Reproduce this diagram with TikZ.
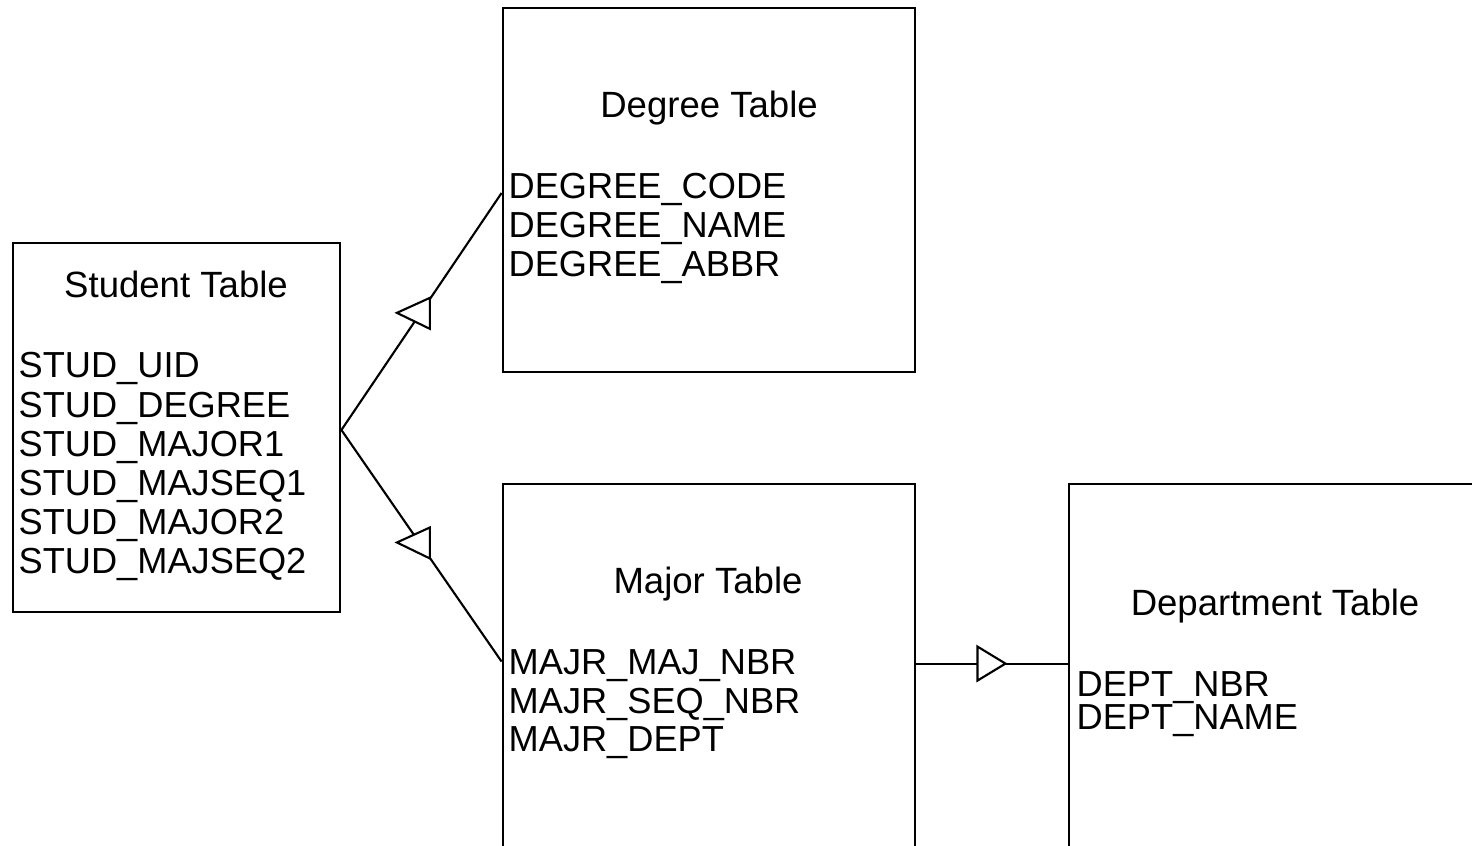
\documentclass[tikz,border=0pt]{standalone}
\usepackage{fontspec}
\setmainfont{Liberation Sans}

\tikzset{
  tablebox/.style={draw, line width=0.8pt, inner sep=0pt},
  tabletitle/.style={inner sep=0pt, anchor=base, font=\fontsize{10.4}{12}\selectfont},
  field/.style={inner sep=0pt, anchor=base west, font=\fontsize{10.3}{12}\selectfont},
  link/.style={line width=0.6pt},
}

\begin{document}
\begin{tikzpicture}
\useasboundingbox (0,0) rectangle (14.72,8.46);
\clip (0,0) rectangle (14.72,8.46);

% Tablas
\node[tablebox, minimum width=3.27cm, minimum height=3.69cm] (student) at (1.765,4.185) {};
\node[tablebox, minimum width=4.12cm, minimum height=3.64cm] (degree) at (7.09,6.56) {};
\node[tablebox, minimum width=4.12cm, minimum height=5cm] (major) at (7.09,1.12) {};
\node[tablebox, minimum width=5.31cm, minimum height=5cm] (dept) at (13.345,1.12) {};

% Titulos
\node[tabletitle] (studtitle) at (1.76,5.48) {Student Table};
\node[tabletitle] (degtitle) at (7.09,7.28) {Degree Table};
\node[tabletitle] (majtitle) at (7.08,2.52) {Major Table};
\node[tabletitle] (depttitle) at (12.75,2.30) {Department Table};

% Campos
\foreach \f [count=\i from 0] in {STUD\_UID, STUD\_DEGREE, STUD\_MAJOR1, STUD\_MAJSEQ1, STUD\_MAJOR2, STUD\_MAJSEQ2}
	\node[field] (stud\i) at (0.18,4.68-0.392*\i) {\f};

\foreach \f [count=\i from 0] in {DEGREE\_CODE, DEGREE\_NAME, DEGREE\_ABBR}
	\node[field] (deg\i) at (5.08,6.47-0.39*\i) {\f};

\foreach \f [count=\i from 0] in {MAJR\_MAJ\_NBR, MAJR\_SEQ\_NBR, MAJR\_DEPT}
	\node[field] (majr\i) at (5.08,1.71-0.385*\i) {\f};

\foreach \f [count=\i from 0] in {DEPT\_NBR, DEPT\_NAME}
	\node[field] (deptf\i) at (10.76,1.49-0.33*\i) {\f};

% Relaciones
\coordinate (studout) at ([yshift=-0.025cm]student.east);
\coordinate (majout) at ([yshift=-1.81cm]major.north east);

\draw[link] (studout) -- coordinate[pos=0.49] (m1) ([yshift=-0.03cm]degree.west);
\draw[link] (studout) -- coordinate[pos=0.49] (m2) ([yshift=-1.79cm]major.north west);
\draw[link] (majout) -- coordinate[pos=0.49] (m3) (majout -| dept.west);

\foreach \m in {m1, m2}
	\draw[link, fill=white] ([shift={(-0.23,0.01)}]\m) -- ([shift={(0.10,0.16)}]\m)
		-- ([shift={(0.10,-0.15)}]\m) -- cycle;

\draw[link, fill=white] ([shift={(0.15,0)}]m3) -- ([shift={(-0.13,0.17)}]m3)
	-- ([shift={(-0.13,-0.17)}]m3) -- cycle;
\end{tikzpicture}
\end{document}
